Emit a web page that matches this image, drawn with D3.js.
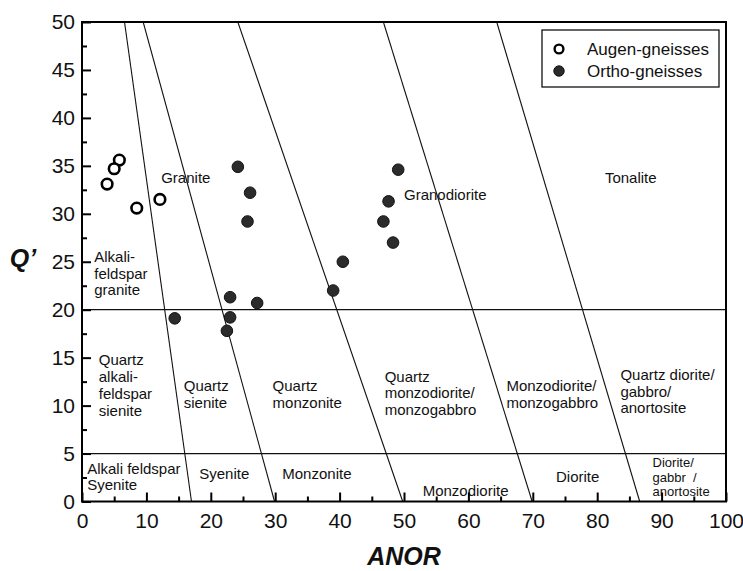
<!DOCTYPE html>
<html>
<head>
<meta charset="utf-8">
<script src="https://cdn.jsdelivr.net/npm/d3@7"></script>
<style>
  html, body { margin: 0; padding: 0; background: #fff; }
  svg { display: block; font-family: "Liberation Sans", Arial, Helvetica, sans-serif; }
</style>
</head>
<body>
<svg id="chart" width="743" height="571"></svg>
<script>
// Q'-ANOR classification diagram (Streckeisen & Le Maitre) with gneiss samples

// Samples: ANOR and Q' values
const augenANOR = [5.8, 5.0, 3.9, 8.5, 12.1];
const augenQ    = [35.6, 34.7, 33.1, 30.6, 31.5];

const orthoANOR = [24.2, 26.1, 25.7, 14.4, 23.0, 23.0, 22.5, 27.2, 49.1, 47.6, 46.8, 48.3, 40.5, 39.0];
const orthoQ    = [34.9, 32.2, 29.2, 19.1, 21.3, 19.2, 17.8, 20.7, 34.6, 31.3, 29.2, 27.0, 25.0, 22.0];

// Field boundaries: sloping lines from Q'=50 down to Q'=0
const boundaryTopANOR    = [6.6, 9.5, 24.2, 46.8, 64.4];
const boundaryBottomANOR = [17.0, 29.9, 49.8, 69.9, 86.6];
// Horizontal boundaries
const boundaryQ = [20, 5];

// Axis ticks
const xTicks = [0, 10, 20, 30, 40, 50, 60, 70, 80, 90, 100];
const xMinorTicks = [5, 15, 25, 35, 45, 55, 65, 75, 85, 95];
const yTicks = [0, 5, 10, 15, 20, 25, 30, 35, 40, 45, 50];
const yMinorTicks = [2.5, 7.5, 12.5, 17.5, 22.5, 27.5, 32.5, 37.5, 42.5, 47.5];

// Field names, anchored at (ANOR, Q') of the first line's baseline
const fieldNames = [
  { lines: ["Granite"], a: 12.3, q: 33.2 },
  { lines: ["Granodiorite"], a: 50.0, q: 31.4 },
  { lines: ["Tonalite"], a: 81.2, q: 33.2 },
  { lines: ["Alkali-", "feldspar", "granite"], a: 1.9, q: 25.0 },
  { lines: ["Quartz", "alkali-", "feldspar", "sienite"], a: 2.6, q: 14.2 },
  { lines: ["Quartz", "sienite"], a: 15.8, q: 11.5 },
  { lines: ["Alkali feldspar", "Syenite"], a: 0.8, q: 2.9 },
  { lines: ["Syenite"], a: 18.2, q: 2.3 },
  { lines: ["Quartz", "monzonite"], a: 29.6, q: 11.5 },
  { lines: ["Monzonite"], a: 31.1, q: 2.3 },
  { lines: ["Quartz", "monzodiorite/", "monzogabbro"], a: 47.0, q: 12.5 },
  { lines: ["Monzodiorite"], a: 52.9, q: 0.6 },
  { lines: ["Monzodiorite/", "monzogabbro"], a: 65.9, q: 11.5 },
  { lines: ["Diorite"], a: 73.6, q: 2.0 },
  { lines: ["Quartz diorite/", "gabbro/", "anortosite"], a: 83.6, q: 12.7 },
];
const smallFieldNames = [
  { lines: ["Diorite/", "gabbr  /", "anortosite"], a: 88.6, q: 3.6 },
];

const seriesNames = ["Augen-gneisses", "Ortho-gneisses"];

// ---- layout ----
const svg = d3.select("#chart");
const margin = { left: 82, top: 22, right: 17, bottom: 70 };
const W = 743, H = 571;
const x = d3.scaleLinear().domain([0, 100]).range([margin.left, W - margin.right]);
const y = d3.scaleLinear().domain([0, 50]).range([H - margin.bottom + 0.5, margin.top]);

svg.append("defs").append("clipPath").attr("id", "plotClip")
  .append("rect")
  .attr("x", x(0)).attr("y", y(50))
  .attr("width", x(100) - x(0)).attr("height", y(0) - y(50));

const fields = svg.append("g").attr("clip-path", "url(#plotClip)");

// horizontal boundaries
fields.selectAll("line.h").data(boundaryQ).join("line")
  .attr("x1", x(0)).attr("x2", x(100))
  .attr("y1", d => y(d)).attr("y2", d => y(d))
  .attr("stroke", "#111").attr("stroke-width", 1.2);

// sloping boundaries
fields.selectAll("line.s").data(d3.zip(boundaryTopANOR, boundaryBottomANOR)).join("line")
  .attr("x1", d => x(d[0])).attr("y1", y(50))
  .attr("x2", d => x(d[1])).attr("y2", y(0))
  .attr("stroke", "#111").attr("stroke-width", 1.1);

// field names
function drawNames(list, size, lh) {
  list.forEach(f => {
    const t = svg.append("text")
      .attr("x", x(f.a)).attr("y", y(f.q))
      .attr("font-size", size).attr("fill", "#111")
      .attr("xml:space", "preserve");
    f.lines.forEach((l, i) => {
      t.append("tspan").attr("x", x(f.a)).attr("dy", i === 0 ? 0 : lh).text(l);
    });
  });
}
drawNames(fieldNames, 15, 16.8);
drawNames(smallFieldNames, 13, 14.7);

// axes with inward ticks
const xAxis = svg.append("g").attr("transform", `translate(0,${y(0)})`)
  .call(d3.axisBottom(x).tickValues(xTicks).tickSize(-9).tickPadding(12).tickFormat(d3.format("d")));
const xMinor = svg.append("g").attr("transform", `translate(0,${y(0)})`)
  .call(d3.axisBottom(x).tickValues(xMinorTicks).tickSize(-5).tickFormat(""));
const yAxis = svg.append("g").attr("transform", `translate(${x(0)},0)`)
  .call(d3.axisLeft(y).tickValues(yTicks).tickSize(-9).tickPadding(7).tickFormat(d3.format("d")));
const yMinor = svg.append("g").attr("transform", `translate(${x(0)},0)`)
  .call(d3.axisLeft(y).tickValues(yMinorTicks).tickSize(-5).tickFormat(""));

[xAxis, xMinor, yAxis, yMinor].forEach(g => {
  g.select(".domain").remove();
  g.selectAll(".tick line").attr("stroke", "#000").attr("stroke-width", 2);
  g.selectAll(".tick text").attr("font-size", 21).attr("fill", "#111")
    .attr("font-family", "'Liberation Sans', Arial, sans-serif");
});

// frame
svg.append("rect")
  .attr("x", x(0)).attr("y", y(50))
  .attr("width", x(100) - x(0)).attr("height", y(0) - y(50))
  .attr("fill", "none").attr("stroke", "#000").attr("stroke-width", 2);

// axis titles
svg.append("text")
  .attr("x", (x(0) + x(100)) / 2).attr("y", 565)
  .attr("text-anchor", "middle")
  .attr("font-size", 25).attr("font-weight", "bold").attr("font-style", "italic")
  .attr("fill", "#111")
  .text("ANOR");
svg.append("text")
  .attr("x", 23).attr("y", 267)
  .attr("text-anchor", "middle")
  .attr("font-size", 25).attr("font-weight", "bold").attr("font-style", "italic")
  .attr("fill", "#111")
  .text("Q’");

// samples
const augen = d3.zip(augenANOR, augenQ);
const ortho = d3.zip(orthoANOR, orthoQ);

svg.append("g").selectAll("circle").data(ortho).join("circle")
  .attr("cx", d => x(d[0])).attr("cy", d => y(d[1])).attr("r", 5.8)
  .attr("fill", "#2b2b2b").attr("stroke", "#111").attr("stroke-width", 1);

svg.append("g").selectAll("circle").data(augen).join("circle")
  .attr("cx", d => x(d[0])).attr("cy", d => y(d[1])).attr("r", 5.3)
  .attr("fill", "#fff").attr("stroke", "#000").attr("stroke-width", 2.6);

// legend
const leg = svg.append("g");
leg.append("rect")
  .attr("x", 542).attr("y", 30).attr("width", 177).attr("height", 57)
  .attr("fill", "#fff").attr("stroke", "#111").attr("stroke-width", 1.3);
leg.append("circle").attr("cx", 559).attr("cy", 49).attr("r", 4.4)
  .attr("fill", "#fff").attr("stroke", "#000").attr("stroke-width", 2.4);
leg.append("circle").attr("cx", 559).attr("cy", 71).attr("r", 5.2)
  .attr("fill", "#2b2b2b").attr("stroke", "#111").attr("stroke-width", 1);
leg.selectAll("text").data(seriesNames).join("text")
  .attr("x", 587).attr("y", (d, i) => 55 + i * 22)
  .attr("font-size", 17).attr("fill", "#111")
  .text(d => d);
</script>
</body>
</html>
